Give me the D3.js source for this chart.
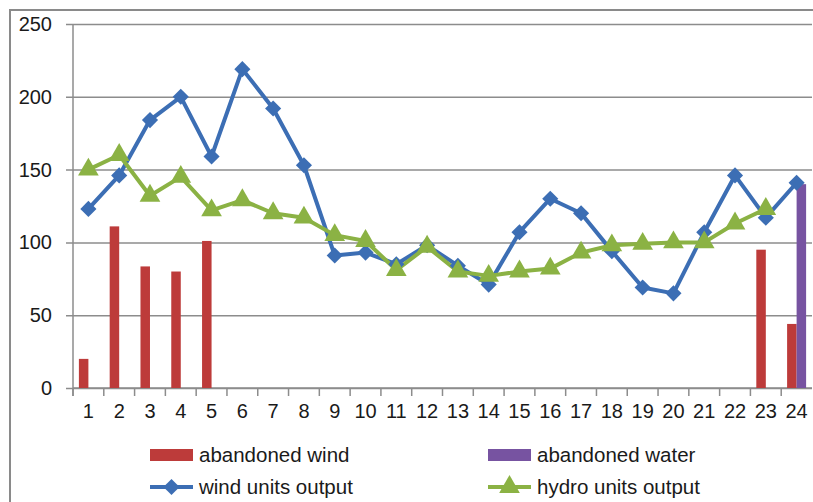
<!DOCTYPE html>
<html>
<head>
<meta charset="utf-8">
<script src="https://cdn.jsdelivr.net/npm/d3@7"></script>
<style>
  body { margin: 0; background: #fff; }
  svg { display: block; font-family: "Liberation Sans", Arial, sans-serif; }
</style>
</head>
<body>
<svg width="813" height="502"></svg>
<script>
const hours = ['1','2','3','4','5','6','7','8','9','10','11','12','13','14','15','16','17','18','19','20','21','22','23','24']
const abandonedWind = [20, 111, 83.5, 80, 101, 0, 0, 0, 0, 0, 0, 0, 0, 0, 0, 0, 0, 0, 0, 0, 0, 0, 95, 44]
const abandonedWater = [0, 0, 0, 0, 0, 0, 0, 0, 0, 0, 0, 0, 0, 0, 0, 0, 0, 0, 0, 0, 0, 0, 0, 140]
const windOutput = [123, 146, 184, 200, 159, 219, 192, 153, 91, 93, 85, 98, 84, 71, 107, 130, 120, 94, 69, 65, 107, 146, 117, 141]
// hydro has no point at hour 24
const hydroOutput = [150, 160, 132, 145, 122, 129, 120, 117, 105, 101, 81, 97, 80, 77, 80, 82, 93, 98, 99, 100, 100, 113, 123]
const yTicks = [0, 50, 100, 150, 200, 250]

const RED = '#BD3B3A'
const PURPLE = '#7753A1'
const BLUE = '#3C6EB4'
const GREEN = '#8BB244'
const GRID = '#8c8c8c'

const LEFT = 73, RIGHT = 812, TOP = 24, BOTTOM = 388

const svg = d3.select('svg')

// chart border (only left and top show in the picture)
svg.append('path')
  .attr('d', 'M10,502 V10 H813')
  .attr('fill', 'none')
  .attr('stroke', '#8a8a8a')
  .attr('stroke-width', 2)

const x = d3.scaleBand()
  .domain(hours)
  .range([LEFT, RIGHT])
  .paddingInner(0).paddingOuter(0)

const sub = d3.scaleBand()
  .domain(['wind', 'water'])
  .range([0, x.bandwidth()])
  .paddingInner(0)
  .paddingOuter(0.62)

const y = d3.scaleLinear()
  .domain([0, 250])
  .range([BOTTOM, TOP])

// gridlines + y labels
const yAxis = svg.append('g')
  .attr('transform', `translate(${LEFT},0)`)
  .call(d3.axisLeft(y).tickValues(yTicks).tickSize(7).tickPadding(14))
yAxis.select('.domain').attr('stroke', GRID).attr('stroke-width', 1.5)
  .attr('d', `M0,${TOP}V${BOTTOM + 8}`)
yAxis.selectAll('.tick line').attr('stroke', GRID).attr('stroke-width', 1.5)
  .attr('x1', RIGHT - LEFT).attr('x2', -7)
yAxis.selectAll('.tick text')
  .attr('font-size', 20).attr('fill', '#1a1a1a')
  .attr('font-family', '"Liberation Sans", Arial, sans-serif')

// x axis with tick marks on band boundaries
const xAxis = svg.append('g')
  .attr('transform', `translate(0,${BOTTOM})`)
  .call(d3.axisBottom(x).tickSize(0).tickPadding(16))
xAxis.select('.domain').remove()
xAxis.selectAll('.tick text')
  .attr('font-size', 20).attr('fill', '#1a1a1a')
  .attr('font-family', '"Liberation Sans", Arial, sans-serif')
svg.append('line')
  .attr('x1', LEFT).attr('x2', RIGHT).attr('y1', BOTTOM).attr('y2', BOTTOM)
  .attr('stroke', GRID).attr('stroke-width', 1.5)
svg.append('g').selectAll('line')
  .data(hours)
  .join('line')
  .attr('x1', d => x(d)).attr('x2', d => x(d))
  .attr('y1', BOTTOM).attr('y2', BOTTOM + 8)
  .attr('stroke', GRID).attr('stroke-width', 1.5)

// bars
const bars = svg.append('g')
hours.forEach((h, i) => {
  [['wind', abandonedWind[i], RED], ['water', abandonedWater[i], PURPLE]].forEach(([k, v, c]) => {
    if (!v) return
    bars.append('rect')
      .attr('x', x(h) + sub(k))
      .attr('width', sub.bandwidth())
      .attr('y', y(v))
      .attr('height', y(0) - y(v))
      .attr('fill', c)
  })
})

const cx = h => x(h) + x.bandwidth() / 2

// wind line
const windData = hours.map((h, i) => ({h, v: windOutput[i]}))
const line = d3.line().x(d => cx(d.h)).y(d => y(d.v))
svg.append('path')
  .datum(windData)
  .attr('d', line)
  .attr('fill', 'none').attr('stroke', BLUE).attr('stroke-width', 4)
  .attr('stroke-linejoin', 'round')

// hydro line
const hydroData = hydroOutput.map((v, i) => ({h: hours[i], v}))
svg.append('path')
  .datum(hydroData)
  .attr('d', line)
  .attr('fill', 'none').attr('stroke', GREEN).attr('stroke-width', 4)
  .attr('stroke-linejoin', 'round')

const diamond = d3.symbol().type(d3.symbolSquare).size(130)
const triangle = d3.symbol().type(d3.symbolTriangle).size(185)

svg.append('g').selectAll('path')
  .data(windData)
  .join('path')
  .attr('d', diamond)
  .attr('transform', d => `translate(${cx(d.h)},${y(d.v)}) rotate(45)`)
  .attr('fill', BLUE)

svg.append('g').selectAll('path')
  .data(hydroData)
  .join('path')
  .attr('d', triangle)
  .attr('transform', d => `translate(${cx(d.h)},${y(d.v)})`)
  .attr('fill', GREEN)

// legend
const legend = [
  {name: 'abandoned wind', color: RED, kind: 'bar', lx: 150, ly: 455},
  {name: 'abandoned water', color: PURPLE, kind: 'bar', lx: 488, ly: 455},
  {name: 'wind units output', color: BLUE, kind: 'diamond', lx: 150, ly: 487},
  {name: 'hydro units output', color: GREEN, kind: 'triangle', lx: 488, ly: 487}
]
const lg = svg.append('g').selectAll('g')
  .data(legend)
  .join('g')
  .attr('transform', d => `translate(${d.lx},${d.ly})`)
lg.each(function(d) {
  const g = d3.select(this)
  if (d.kind === 'bar') {
    g.append('rect').attr('x', 0).attr('y', -6).attr('width', 43).attr('height', 12).attr('fill', d.color)
  } else {
    g.append('line').attr('x1', 0).attr('x2', 43).attr('stroke', d.color).attr('stroke-width', 4)
    g.append('path')
      .attr('d', d.kind === 'diamond' ? diamond() : triangle())
      .attr('transform', d.kind === 'diamond' ? 'translate(21.5,0) rotate(45)' : 'translate(21.5,0)')
      .attr('fill', d.color)
  }
  g.append('text')
    .attr('x', 49).attr('y', 7)
    .attr('font-size', 20.5).attr('fill', '#1a1a1a')
    .text(d.name)
})
</script>
</body>
</html>
